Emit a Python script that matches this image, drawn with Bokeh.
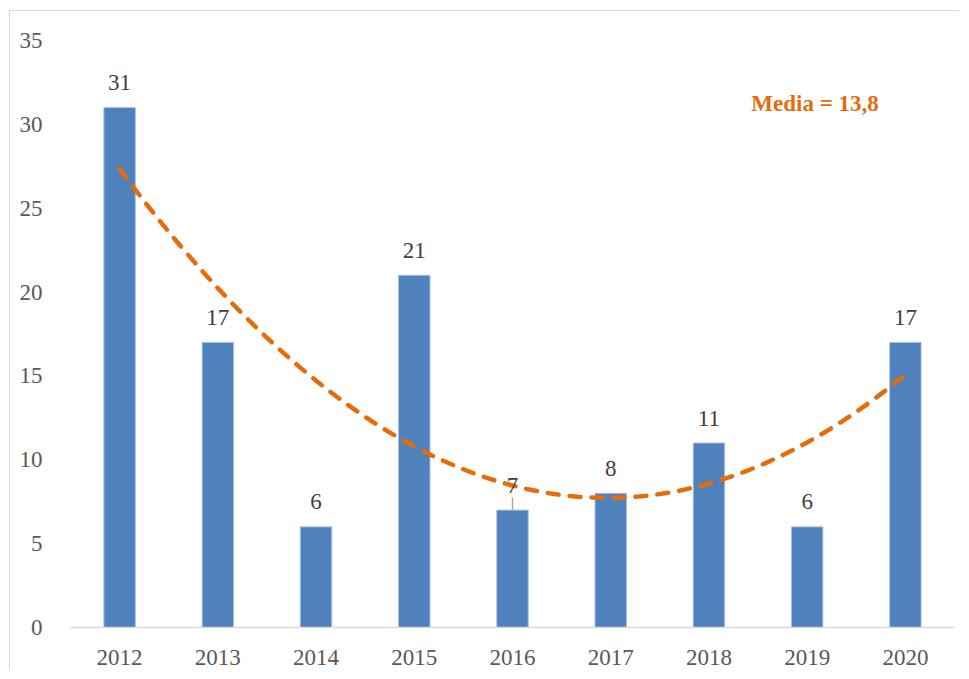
import numpy as np
from bokeh.plotting import figure
from bokeh.models import ColumnDataSource, FixedTicker, Label
from bokeh.embed import file_html
from bokeh.resources import INLINE

years = ["2012", "2013", "2014", "2015", "2016", "2017", "2018", "2019", "2020"]
values = [31, 17, 6, 21, 7, 8, 11, 6, 17]
y_ticks = [0, 5, 10, 15, 20, 25, 30, 35]

xpos = list(range(1, len(years) + 1))
src = ColumnDataSource(dict(x=xpos, y=values, lab=[str(v) for v in values]))

FONT = "Liberation Serif"
BLUE = "#4F81BD"
ORANGE = "#E46C0A"

p = figure(width=950, height=660, x_range=(0.5, len(years) + 0.5), y_range=(0, 35),
           output_backend="svg", toolbar_location=None,
           min_border_left=60, min_border_right=6, min_border_top=29, min_border_bottom=44,
           styles={"margin-left": "9px", "margin-top": "10px",
                   "border-left": "1.5px solid #D9D9D9", "border-top": "1.5px solid #D9D9D9"})
p.outline_line_color = None
p.xgrid.grid_line_color = None
p.ygrid.grid_line_color = None

p.vbar(x="x", top="y", width=0.32, source=src, fill_color=BLUE, line_color="#A9C0DE", line_width=1)

# trendline: quadratic polynomial fit of the data
coef = np.polyfit(xpos, values, 2)
xs = np.linspace(xpos[0], xpos[-1], 200)
p.line(xs, np.polyval(coef, xs), line_color=ORANGE, line_width=4.5, line_dash="11 11", line_cap="round")

# leader line for 2016 label
p.segment(x0=[xpos[4]], y0=[values[4]], x1=[xpos[4]], y1=[values[4] + 0.75], line_color="#A6A6A6", line_width=1.5)

p.text(x="x", y="y", text="lab", source=src, text_align="center", text_baseline="middle",
       y_offset=-25, text_font_size="23px", text_color="#404040", text_font={"value": FONT})

mean_txt = "Media = " + f"{np.mean(values):.1f}".replace(".", ",")
p.add_layout(Label(x=8.08, y=31.25, text=mean_txt, text_align="center", text_baseline="middle",
                   text_font=FONT, text_font_size="23px", text_font_style="bold", text_color=ORANGE))

p.xaxis.ticker = FixedTicker(ticks=xpos)
p.xaxis.major_label_overrides = {i: y for i, y in zip(xpos, years)}
p.xaxis.axis_line_color = "#D9D9D9"
p.xaxis.axis_line_width = 1.5
p.xaxis.major_tick_line_color = None
p.xaxis.minor_tick_line_color = None
p.xaxis.major_label_standoff = 16
p.xaxis.major_label_text_font = FONT
p.xaxis.major_label_text_font_size = "23px"
p.xaxis.major_label_text_color = "#595959"

p.yaxis.ticker = FixedTicker(ticks=y_ticks)
p.yaxis.axis_line_color = None
p.yaxis.major_tick_line_color = None
p.yaxis.minor_tick_line_color = None
p.yaxis.major_label_standoff = 22
p.yaxis.major_label_text_font = FONT
p.yaxis.major_label_text_font_size = "23px"
p.yaxis.major_label_text_color = "#595959"

open("out.html", "w").write(file_html(p, INLINE))
